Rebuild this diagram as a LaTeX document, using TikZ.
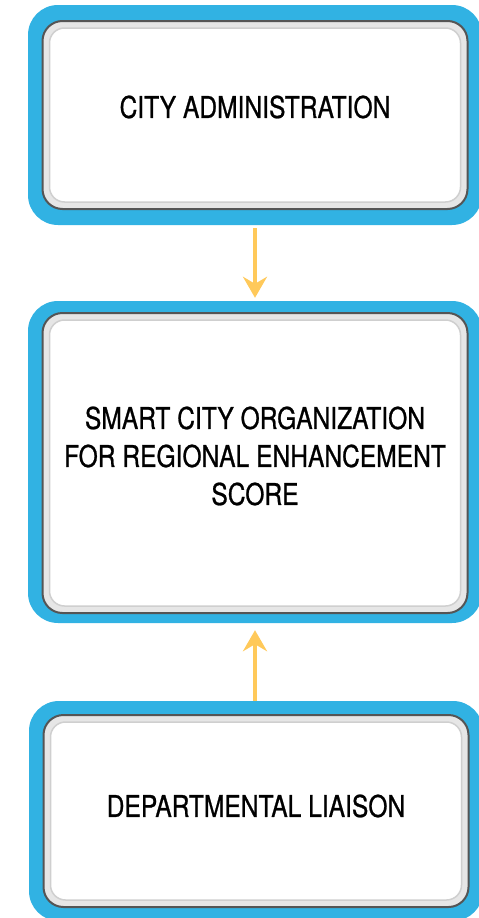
\documentclass[tikz,border=0pt]{standalone}
\usepackage{fontspec}
\setmainfont{TeX Gyre Heros}[FakeStretch=0.82,FakeBold=0.8]
\usepackage{tikz}
\usetikzlibrary{arrows.meta}
\definecolor{skyblue}{HTML}{31B2E3}
\definecolor{darkrim}{HTML}{555555}
\definecolor{rimgray}{HTML}{E6E6E6}
\definecolor{facegray}{HTML}{CFCFCF}
\definecolor{arrowgold}{HTML}{FFC95A}

\begin{document}
\begin{tikzpicture}[
      x=1pt, y=-1pt,
      shell/.style={
        rounded corners=30pt,
        fill=skyblue,
        inner sep=0pt,
        minimum width=454pt
      },
      frame/.style={
        rounded corners=20pt,
        draw=darkrim,
        line width=2pt,
        fill=rimgray,
        inner sep=0pt,
        minimum width=425pt
      },
      face/.style={
        rounded corners=15pt,
        draw=facegray,
        line width=1.5pt,
        fill=white,
        inner sep=0pt,
        minimum width=411pt
      },
      caption/.style={
        align=center,
        font=\fontsize{30}{38}\selectfont
      },
      link/.style={
        draw=arrowgold,
        line width=4pt,
        -{Stealth[length=21pt,width=24pt,inset=7pt]}
      }
    ]
      \useasboundingbox (0,0) rectangle (479,918);

      \node (admin) at (255,115) [shell,minimum height=220pt]{};
      \node (adminframe) at (255,115) [frame,minimum height=188pt]{};
      \node (adminface) at (255,115) [face,minimum height=174pt]{};
      \node (admintext) at (255,107) [caption]{CITY ADMINISTRATION};

      \node (smart) at (255,462) [shell,minimum height=322pt]{};
      \node (smartframe) at (255,463) [frame,minimum height=300pt]{};
      \node (smartface) at (255,463) [face,minimum height=286pt]{};
      \node (smarttext) at (255,456) [caption]{SMART CITY ORGANIZATION\\FOR REGIONAL ENHANCEMENT\\SCORE};

      \node (liaison) at (256,811) [shell,minimum height=220pt]{};
      \node (liaisonframe) at (256,811) [frame,minimum height=192pt]{};
      \node (liaisonface) at (256,811) [face,minimum height=178pt]{};
      \node (liaisontext) at (256,806) [caption]{DEPARTMENTAL LIAISON};

      \draw[link,shorten <=3pt,shorten >=3pt] (admin.south) -- (smart.north);
      \draw[link,shorten >=7pt] (liaison.north -| smart.south) -- (smart.south);

    \end{tikzpicture}
\end{document}
